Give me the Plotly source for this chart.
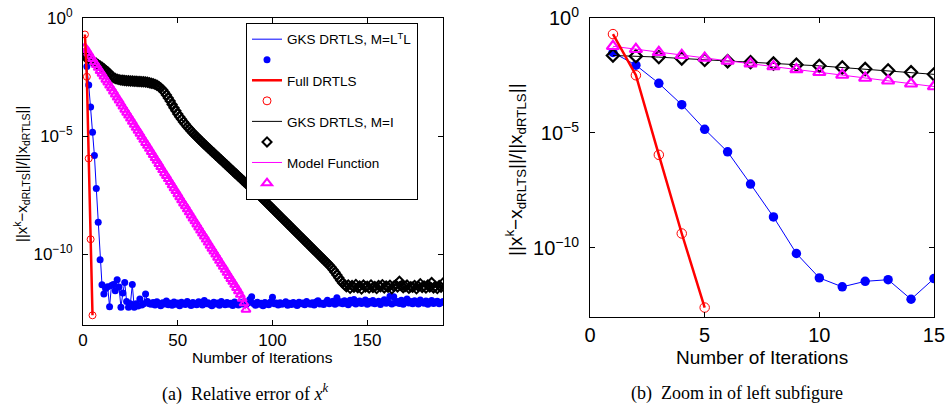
import plotly.graph_objects as go
import numpy as np

# ---- data (values stored as log10 of the relative error) ----
iters_gks_ltl = list(range(1, 191))
log10_gks_ltl = [
    -1.50, -2.05, -2.84, -3.77, -4.84, -5.82, -7.22, -8.65, -10.24, -11.30,
    -11.69, -11.45, -11.38, -12.23, -11.33, -11.29, -11.55, -11.08, -11.39, -12.25,
    -11.65, -11.20, -12.00, -12.25, -12.10, -11.29, -12.25, -12.10, -12.20, -11.90,
    -12.15, -12.10, -11.69, -12.00, -12.10,
    -12.12, -12.05, -12.15, -12.02, -12.10, -12.18, -12.06, -12.11, -11.98, -12.14,
    -12.08, -12.16, -12.03, -12.12, -12.07, -12.19, -12.04, -12.10, -12.13, -12.00,
    -12.09, -12.17, -12.05, -12.11, -12.14, -12.02, -12.08, -12.15, -11.96, -12.10,
    -12.06, -12.13, -12.18, -12.04, -12.11, -12.07, -12.16, -12.01, -12.09, -12.14,
    -12.05, -12.12, -12.08, -12.17, -12.03, -12.10, -12.15, -12.06, -12.11, -12.02,
    -12.13, -12.07, -11.92, -11.80, -12.09, -12.16, -12.04, -12.12, -12.08, -12.18,
    -12.05, -12.11, -12.14, -12.03, -11.82, -12.10, -12.07, -12.15, -12.06, -12.12,
    -12.09, -12.02, -12.16, -12.08, -12.13, -12.05, -12.11, -12.17, -12.04, -12.10,
    -12.07, -12.14, -12.01, -12.09, -12.12, -12.06, -12.15, -12.03, -11.97, -12.11,
    -12.08, -12.13, -12.05, -11.95, -12.10, -12.04, -11.99, -12.12, -11.85, -12.07,
    -12.02, -12.10, -11.97, -12.08, -12.14, -11.95, -12.06, -11.92, -12.11, -12.03,
    -11.98, -12.09, -12.04, -11.94, -12.12, -12.00, -12.07, -11.96, -12.10, -12.05,
    -11.99, -12.13, -12.02, -11.93, -12.08, -12.04, -11.78, -12.11, -11.80, -12.06,
    -12.01, -12.09, -11.95, -12.12, -12.03, -11.90, -12.07, -12.00, -12.10, -11.97,
    -12.05, -12.11, -11.94, -12.04, -12.08, -11.98, -12.12, -12.02, -11.96, -12.09,
    -12.03, -11.99, -12.10, -12.05, -12.00,
]

iters_full = [1, 2, 3, 4, 5]
log10_full = [-0.70, -2.49, -5.95, -9.37, -12.59]

iters_gks_i = list(range(1, 191))
log10_gks_i = [
    -1.63, -1.66, -1.70, -1.76, -1.82, -1.88, -1.92, -1.98, -2.03, -2.08,
    -2.15, -2.22, -2.28, -2.36, -2.45, -2.52, -2.56, -2.59, -2.61, -2.63,
    -2.64, -2.65, -2.66, -2.66, -2.67, -2.67, -2.68, -2.68, -2.69, -2.69,
    -2.70, -2.70, -2.71, -2.72, -2.74, -2.76, -2.78, -2.81, -2.85, -2.90,
    -2.96, -3.04, -3.14, -3.26, -3.39, -3.52, -3.66, -3.80, -3.93, -4.06,
    -4.18, -4.29, -4.40, -4.50, -4.60, -4.69, -4.78, -4.87, -4.95, -5.03,
    -5.11, -5.19, -5.27, -5.35, -5.42, -5.50, -5.57, -5.65, -5.72, -5.80,
    -5.87, -5.95, -6.02, -6.10, -6.17, -6.25, -6.32, -6.40, -6.47, -6.55,
    -6.62, -6.70, -6.77, -6.85, -6.92, -7.00, -7.07, -7.14, -7.21, -7.28,
    -7.36, -7.43, -7.51, -7.59, -7.67, -7.75, -7.83, -7.91, -7.99, -8.07,
    -8.15, -8.23, -8.31, -8.39, -8.47, -8.55, -8.63, -8.71, -8.79, -8.87,
    -8.95, -9.03, -9.11, -9.19, -9.27, -9.35, -9.43, -9.51, -9.59, -9.67,
    -9.75, -9.83, -9.91, -9.99, -10.07, -10.15, -10.23, -10.31, -10.39, -10.47,
    -10.56, -10.66, -10.77, -10.88, -11.00, -11.12, -11.22, -11.30, -11.38, -11.30,
    -11.45, -11.33, -11.40, -11.28, -11.42, -11.35, -11.48, -11.31, -11.39, -11.36,
    -11.44, -11.30, -11.41, -11.37, -11.46, -11.33, -11.38, -11.29, -11.43, -11.35,
    -11.40, -11.32, -11.47, -11.36, -11.30, -11.39, -11.15, -11.34, -11.42, -11.37,
    -11.31, -11.45, -11.38, -11.40, -11.33, -11.47, -11.36, -11.25, -11.41, -11.35,
    -11.44, -11.30, -11.39, -11.20, -11.43, -11.37, -11.46, -11.33, -11.40, -11.22,
]

iters_model = list(range(1, 87))
log10_model = [
    -1.23, -1.36, -1.49, -1.62, -1.74, -1.87, -1.99, -2.11, -2.24, -2.36,
    -2.48, -2.61, -2.73, -2.86, -2.98, -3.11, -3.24, -3.37, -3.49, -3.62,
    -3.75, -3.88, -4.01, -4.13, -4.26, -4.39, -4.52, -4.65, -4.77, -4.90,
    -5.03, -5.16, -5.29, -5.41, -5.54, -5.67, -5.80, -5.93, -6.05, -6.18,
    -6.31, -6.44, -6.57, -6.69, -6.82, -6.95, -7.08, -7.21, -7.33, -7.46,
    -7.59, -7.72, -7.85, -7.97, -8.10, -8.23, -8.36, -8.49, -8.61, -8.74,
    -8.87, -9.00, -9.13, -9.25, -9.38, -9.51, -9.64, -9.77, -9.89, -10.02,
    -10.15, -10.28, -10.41, -10.53, -10.66, -10.79, -10.92, -11.05, -11.17, -11.30,
    -11.43, -11.57, -11.72, -11.89, -12.08, -12.35,
]

zoom_last_iter = 15

legend_names = ["GKS DRTLS, M=L<sup>T</sup>L", "Full DRTLS", "GKS DRTLS, M=I", "Model Function"]
y_tick_vals = [1e-10, 1e-5, 1]
y_tick_text = ["10<sup>\u221210</sup>", "10<sup>\u22125</sup>", "10<sup>0</sup>"]
x_ticks_left = [0, 50, 100, 150]
x_ticks_right = [0, 5, 10, 15]

BLUE = "#0000ff"
RED = "#ff0000"
BLACK = "#000000"
MAG = "#ff00ff"
SANS = "Liberation Sans, Arial, sans-serif"
SERIF = "Liberation Serif, Times New Roman, serif"

def vals(logs):
    return [10.0 ** v for v in logs]

fig = go.Figure()

def add_set(xa, ya, n_max, scale, lw_mk):
    def cut(xs, ys):
        pairs = [(x, y) for x, y in zip(xs, ys) if x <= n_max]
        return [p[0] for p in pairs], vals([p[1] for p in pairs])
    x, y = cut(iters_gks_ltl, log10_gks_ltl)
    fig.add_trace(go.Scatter(x=x, y=y, mode="lines+markers", xaxis=xa, yaxis=ya, showlegend=False,
                             line=dict(color=BLUE, width=1),
                             marker=dict(symbol="circle", size=7 * scale, color=BLUE)))
    x, y = cut(iters_gks_i, log10_gks_i)
    fig.add_trace(go.Scatter(x=x, y=y, mode="lines+markers", xaxis=xa, yaxis=ya, showlegend=False,
                             line=dict(color=BLACK, width=1),
                             marker=dict(symbol="diamond-open", size=7 * scale, color=BLACK,
                                         line=dict(width=lw_mk, color=BLACK))))
    x, y = cut(iters_model, log10_model)
    fig.add_trace(go.Scatter(x=x, y=y, mode="lines+markers", xaxis=xa, yaxis=ya, showlegend=False,
                             line=dict(color=MAG, width=1),
                             marker=dict(symbol="triangle-up-open", size=8 * scale, color=MAG,
                                         line=dict(width=lw_mk, color=MAG))))
    x, y = cut(iters_full, log10_full)
    fig.add_trace(go.Scatter(x=x, y=y, mode="lines+markers", xaxis=xa, yaxis=ya, showlegend=False,
                             line=dict(color=RED, width=2.5),
                             marker=dict(symbol="circle-open", size=7 * scale, color=RED,
                                         line=dict(width=1, color=RED))))

add_set("x", "y", 190, 1.0, 2.0)
add_set("x2", "y2", zoom_last_iter, 1.35, 2.2)

# legend entries (MATLAB style: line row, then marker row)
leg_specs = [
    (legend_names[0], BLUE, 1, "circle", 7, 0),
    (legend_names[1], RED, 2.5, "circle-open", 8, 1),
    (legend_names[2], BLACK, 1, "diamond-open", 7, 2),
    (legend_names[3], MAG, 1, "triangle-up-open", 9, 2),
]
for name, col, lw, sym, sz, mlw in leg_specs:
    fig.add_trace(go.Scatter(x=[None], y=[None], mode="lines", name=name,
                             line=dict(color=col, width=lw), xaxis="x", yaxis="y"))
    fig.add_trace(go.Scatter(x=[None], y=[None], mode="markers", name=" ",
                             marker=dict(symbol=sym, size=sz, color=col,
                                         line=dict(width=mlw if mlw else 0, color=col)),
                             xaxis="x", yaxis="y"))

axis_common = dict(showline=True, linecolor="black", linewidth=1, mirror="ticks",
                   ticks="inside", ticklen=5, tickcolor="black", showgrid=False,
                   zeroline=False, automargin=False)

fig.update_layout(
    width=948, height=409,
    margin=dict(l=0, r=0, t=0, b=0, pad=0, autoexpand=False),
    paper_bgcolor="white", plot_bgcolor="white",
    font=dict(family=SANS, color="black"),
    xaxis=dict(domain=[0.0876, 0.4673], range=[0, 190], tickmode="array", tickvals=x_ticks_left,
               tickfont=dict(size=17), anchor="y", ticklabelstandoff=0, **axis_common),
    yaxis=dict(domain=[0.2054, 0.956], type="log", range=[-13, 0], tickmode="array",
               tickvals=y_tick_vals, ticktext=y_tick_text, tickfont=dict(size=17),
               ticklabelstandoff=6, anchor="x", **axis_common),
    xaxis2=dict(domain=[0.6224, 0.9852], range=[0, 15], tickmode="array", tickvals=x_ticks_right,
                tickfont=dict(size=20), anchor="y2", ticklabelstandoff=0, **axis_common),
    yaxis2=dict(domain=[0.225, 0.956], type="log", range=[-13, 0], tickmode="array",
                tickvals=y_tick_vals, ticktext=y_tick_text, tickfont=dict(size=20),
                ticklabelstandoff=6, anchor="x2", **axis_common),
    legend=dict(x=0.2595, y=0.944, xanchor="left", yanchor="top",
                bgcolor="white", bordercolor="black", borderwidth=1,
                font=dict(size=13.5, family=SANS), tracegroupgap=0),
    showlegend=True,
)

ylab = "||x<sup>k</sup>\u2212x<sub>dRLTS</sub>||/||x<sub>dRTLS</sub>||"
annos = [
    dict(x=0.2764, y=0.125, text="Number of Iterations", font=dict(size=15.5)),
    dict(x=0.8033, y=0.1271, text="Number of Iterations", font=dict(size=19)),
    dict(x=0.0232, y=0.5746, text=ylab, textangle=-90, font=dict(size=15)),
    dict(x=0.5443, y=0.5868, text=ylab, textangle=-90, font=dict(size=19)),
    dict(x=0.2584, y=0.0391, text="(a)  Relative error of <i>x</i><sup><i>k</i></sup>",
         font=dict(size=18, family=SERIF)),
    dict(x=0.7774, y=0.0391, text="(b)  Zoom in of left subfigure",
         font=dict(size=18, family=SERIF)),
]
for a in annos:
    a.update(xref="paper", yref="paper", showarrow=False, xanchor="center", yanchor="middle")
    fig.add_annotation(**a)

fig.write_html("out.html", config={"displayModeBar": False},
               post_script="document.body.style.margin='0px';document.body.style.overflow='hidden';")
